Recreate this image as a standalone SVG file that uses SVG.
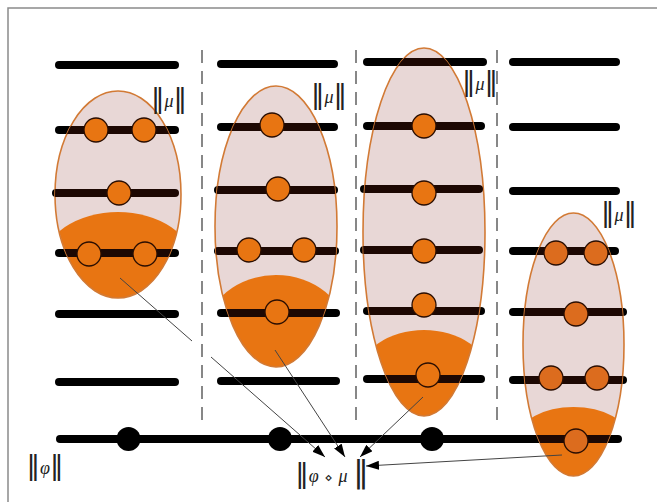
<svg xmlns="http://www.w3.org/2000/svg" width="657" height="502" viewBox="0 0 657 502">
  <style>
    .lv { stroke: #000; stroke-width: 8; stroke-linecap: round; fill: none; }
    .lvin { stroke: #1d0803; stroke-width: 8; stroke-linecap: round; fill: none; }
    .sep { stroke: #555; stroke-width: 1.4; stroke-dasharray: 13 8; fill: none; }
    .shell { fill: #e8d7d6; stroke: none; }
    .rim { fill: none; stroke: #d27a35; stroke-width: 1.6; }
    .core { fill: #e87512; }
    .pt { fill: #e87512; stroke: #2a0e02; stroke-width: 1.3; }
    .pt4 { fill: #dc6c1e; stroke: #2a0e02; stroke-width: 1.3; }
    .dot { fill: #000; }
    .lbl { font-family: "DejaVu Sans", sans-serif; font-size: 18px; fill: #222; text-anchor: middle; }
    .bar { font-size: 27px; }
    .it { font-family: "Liberation Serif", serif; font-style: italic; }
    .arrow { stroke: #444; stroke-width: 1; fill: none; marker-end: url(#head); }
    .seg { stroke: #444; stroke-width: 1; fill: none; }
  </style>
  <defs>
    <marker id="head" markerUnits="userSpaceOnUse" markerWidth="13" markerHeight="9" refX="13" refY="4.5" orient="auto">
      <path d="M0,0 L13,4.5 L0,9 Z" fill="#000"/>
    </marker>
    <clipPath id="c1"><ellipse cx="118" cy="194.5" rx="63" ry="103.5"/></clipPath>
    <clipPath id="c2"><ellipse cx="276" cy="226.5" rx="61" ry="140.5"/></clipPath>
    <clipPath id="c3"><ellipse cx="424" cy="232" rx="61" ry="184"/></clipPath>
    <clipPath id="c4"><ellipse cx="573.5" cy="344.5" rx="50.5" ry="131.5"/></clipPath>
  </defs>

  <!-- outer frame -->
  <rect x="8" y="8" width="660" height="500" fill="#fff" stroke="#8a8a8a" stroke-width="1.5"/>

  <!-- column separators -->
  <g id="separators">
    <line class="sep" x1="202" y1="50" x2="202" y2="426"/>
    <line class="sep" x1="356" y1="50" x2="356" y2="426"/>
    <line class="sep" x1="497" y1="50" x2="497" y2="426"/>
  </g>

  <!-- level bars -->
  <g id="levels">
    <line class="lv" x1="59" y1="65" x2="175" y2="65"/>
    <line class="lv" x1="59" y1="130" x2="175" y2="130"/>
    <line class="lv" x1="56" y1="193" x2="175" y2="193"/>
    <line class="lv" x1="59" y1="253" x2="175" y2="253"/>
    <line class="lv" x1="59" y1="314" x2="175" y2="314"/>
    <line class="lv" x1="59" y1="382" x2="175" y2="382"/>

    <line class="lv" x1="221" y1="64" x2="334" y2="64"/>
    <line class="lv" x1="221" y1="127" x2="334" y2="127"/>
    <line class="lv" x1="218" y1="190" x2="334" y2="190"/>
    <line class="lv" x1="218" y1="251" x2="335" y2="251"/>
    <line class="lv" x1="221" y1="313" x2="336" y2="313"/>
    <line class="lv" x1="221" y1="381" x2="336" y2="381"/>

    <line class="lv" x1="367" y1="62" x2="483" y2="62" stroke-linecap="butt"/>
    <line class="lv" x1="367" y1="126" x2="481" y2="126"/>
    <line class="lv" x1="364" y1="189" x2="479" y2="189"/>
    <line class="lv" x1="364" y1="250" x2="479" y2="250"/>
    <line class="lv" x1="367" y1="311" x2="481" y2="311"/>
    <line class="lv" x1="367" y1="379" x2="481" y2="379"/>

    <line class="lv" x1="513" y1="62" x2="616" y2="62"/>
    <line class="lv" x1="513" y1="127" x2="616" y2="127"/>
    <line class="lv" x1="513" y1="191" x2="616" y2="191"/>
    <line class="lv" x1="513" y1="251" x2="615" y2="251"/>
    <line class="lv" x1="513" y1="312" x2="623" y2="312"/>
    <line class="lv" x1="513" y1="380" x2="623" y2="380"/>
  </g>

  <!-- baseline with its three marks -->
  <g id="phi-axis">
    <line class="lv" x1="60" y1="439" x2="618" y2="439"/>
    <circle class="dot" cx="128.5" cy="439" r="12"/>
    <circle class="dot" cx="280" cy="439" r="12"/>
    <circle class="dot" cx="432" cy="439" r="12"/>
  </g>

  <!-- model sets -->
  <g id="set-1">
    <ellipse class="shell" cx="118" cy="194.5" rx="63" ry="103.5"/>
    <path class="core" clip-path="url(#c1)" d="M43,263 A75,51 0 0 1 193,263 V500 H43 Z"/>
    <ellipse class="rim" cx="118" cy="194.5" rx="63" ry="103.5"/>
    <g clip-path="url(#c1)">
      <line class="lvin" x1="59" y1="130" x2="175" y2="130"/>
      <line class="lvin" x1="56" y1="193" x2="175" y2="193"/>
      <line class="lvin" x1="59" y1="253" x2="175" y2="253"/>
    </g>
    <circle class="pt" cx="96" cy="130" r="12"/>
    <circle class="pt" cx="144" cy="130" r="12"/>
    <circle class="pt" cx="119" cy="193" r="12"/>
    <circle class="pt" cx="89" cy="254" r="12"/>
    <circle class="pt" cx="145" cy="254" r="12"/>
  </g>

  <g id="set-2">
    <ellipse class="shell" cx="276" cy="226.5" rx="61" ry="140.5"/>
    <path class="core" clip-path="url(#c2)" d="M206,333 A70,58 0 0 1 346,333 V500 H206 Z"/>
    <ellipse class="rim" cx="276" cy="226.5" rx="61" ry="140.5"/>
    <g clip-path="url(#c2)">
      <line class="lvin" x1="221" y1="127" x2="334" y2="127"/>
      <line class="lvin" x1="218" y1="190" x2="334" y2="190"/>
      <line class="lvin" x1="218" y1="251" x2="335" y2="251"/>
      <line class="lvin" x1="221" y1="313" x2="336" y2="313"/>
    </g>
    <circle class="pt" cx="272" cy="125" r="12"/>
    <circle class="pt" cx="278" cy="189" r="12"/>
    <circle class="pt" cx="249" cy="250" r="12"/>
    <circle class="pt" cx="304" cy="250" r="12"/>
    <circle class="pt" cx="277" cy="312" r="12"/>
  </g>

  <g id="set-3">
    <ellipse class="shell" cx="424" cy="232" rx="61" ry="184"/>
    <path class="core" clip-path="url(#c3)" d="M359,376 A65,46 0 0 1 489,376 V500 H359 Z"/>
    <ellipse class="rim" cx="424" cy="232" rx="61" ry="184"/>
    <g clip-path="url(#c3)">
      <line class="lvin" x1="367" y1="62" x2="483" y2="62" stroke-linecap="butt"/>
      <line class="lvin" x1="367" y1="126" x2="481" y2="126"/>
      <line class="lvin" x1="364" y1="189" x2="479" y2="189"/>
      <line class="lvin" x1="364" y1="250" x2="479" y2="250"/>
      <line class="lvin" x1="367" y1="311" x2="481" y2="311"/>
      <line class="lvin" x1="367" y1="379" x2="481" y2="379"/>
    </g>
    <circle class="pt" cx="424" cy="126" r="12"/>
    <circle class="pt" cx="424" cy="193" r="12"/>
    <circle class="pt" cx="424" cy="251" r="12"/>
    <circle class="pt" cx="424" cy="305" r="12"/>
    <circle class="pt" cx="428" cy="375" r="12"/>
  </g>

  <g id="set-4">
    <ellipse class="shell" cx="573.5" cy="344.5" rx="50.5" ry="131.5"/>
    <path class="core" clip-path="url(#c4)" d="M518.5,438 A55,31 0 0 1 628.5,438 V500 H518.5 Z"/>
    <ellipse class="rim" cx="573.5" cy="344.5" rx="50.5" ry="131.5"/>
    <g clip-path="url(#c4)">
      <line class="lvin" x1="513" y1="251" x2="615" y2="251"/>
      <line class="lvin" x1="513" y1="312" x2="623" y2="312"/>
      <line class="lvin" x1="513" y1="380" x2="623" y2="380"/>
      <line class="lvin" x1="60" y1="439" x2="618" y2="439"/>
    </g>
    <circle class="pt4" cx="556" cy="253" r="12"/>
    <circle class="pt4" cx="596" cy="253" r="12"/>
    <circle class="pt4" cx="576" cy="314" r="12"/>
    <circle class="pt4" cx="551" cy="378" r="12"/>
    <circle class="pt4" cx="597" cy="378" r="12"/>
    <circle class="pt4" cx="576" cy="441" r="12"/>
  </g>

  <!-- labels -->
  <g id="labels">
    <text class="lbl" x="169" y="106.5"><tspan class="bar">‖</tspan><tspan class="it">μ</tspan><tspan class="bar">‖</tspan></text>
    <text class="lbl" x="329" y="102.5"><tspan class="bar">‖</tspan><tspan class="it">μ</tspan><tspan class="bar">‖</tspan></text>
    <text class="lbl" x="480" y="89.5"><tspan class="bar">‖</tspan><tspan class="it">μ</tspan><tspan class="bar">‖</tspan></text>
    <text class="lbl" x="619" y="220.5"><tspan class="bar">‖</tspan><tspan class="it">μ</tspan><tspan class="bar">‖</tspan></text>
    <text class="lbl" x="45" y="473.5"><tspan class="bar">‖</tspan><tspan class="it">φ</tspan><tspan class="bar">‖</tspan></text>
    <text class="lbl" x="332" y="481.5"><tspan class="bar">‖</tspan><tspan class="it">φ</tspan> <tspan font-size="13">⋄</tspan> <tspan class="it">μ</tspan> <tspan font-size="31">‖</tspan></text>
  </g>

  <!-- connectors -->
  <g id="connectors">
    <line class="seg" x1="120" y1="278" x2="192" y2="341"/>
    <line class="arrow" x1="211" y1="357" x2="325" y2="457"/>
    <line class="arrow" x1="275" y1="350" x2="345" y2="457"/>
    <line class="arrow" x1="423" y1="397" x2="360" y2="457"/>
    <line class="arrow" x1="562" y1="455" x2="366" y2="466"/>
  </g>
</svg>
